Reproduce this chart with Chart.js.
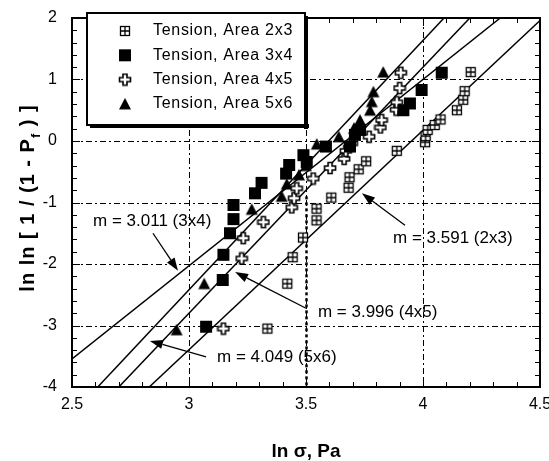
<!DOCTYPE html>
<html>
<head>
<meta charset="utf-8">
<script src="https://cdn.jsdelivr.net/npm/chart.js@4.4.1/dist/chart.umd.min.js"></script>
<style>
  html, body { margin: 0; padding: 0; background: #fff; }
  #wrap { width: 549px; height: 461px; }
</style>
</head>
<body>
<div id="wrap"><canvas id="weibull" width="549" height="461"></canvas></div>
<script>
// measured points: [ln sigma, ln ln(1/(1-Pf))]
const pts2x3 = [[3.335,-3.05],[3.42,-2.32],[3.443,-1.89],[3.487,-1.57],[3.545,-1.29],[3.545,-1.10],
  [3.608,-0.92],[3.682,-0.76],[3.686,-0.59],[3.725,-0.46],[3.757,-0.33],[3.888,-0.16],[4.009,-0.02],
  [4.011,0.08],[4.02,0.18],[4.05,0.26],[4.075,0.35],[4.145,0.50],[4.172,0.67],[4.178,0.81],[4.204,1.12]];
const pts3x4 = [[3.073,-3.02],[3.144,-2.26],[3.147,-1.85],[3.175,-1.50],[3.19,-1.27],[3.19,-1.04],
  [3.282,-0.85],[3.31,-0.68],[3.415,-0.53],[3.428,-0.39],[3.489,-0.23],[3.503,-0.34],[3.585,-0.09],
  [3.688,-0.09],[3.709,0.10],[3.731,0.18],[3.916,0.50],[3.944,0.61],[3.994,0.83],[4.08,1.11]];
const pts4x5 = [[3.147,-3.05],[3.225,-1.91],[3.232,-1.58],[3.318,-1.32],[3.439,-1.08],[3.449,-0.93],
  [3.46,-0.77],[3.531,-0.61],[3.603,-0.44],[3.663,-0.29],[3.67,-0.16],[3.695,-0.04],[3.77,0.07],
  [3.818,0.22],[3.823,0.34],[3.885,0.51],[3.888,0.63],[3.9,0.86],[3.905,1.11]];
const pts5x6 = [[2.947,-3.07],[3.065,-2.32],[3.268,-1.11],[3.396,-0.90],[3.418,-0.70],[3.47,-0.55],
  [3.5,-0.40],[3.546,-0.05],[3.64,0.07],[3.705,0.21],[3.731,0.34],[3.774,0.50],[3.781,0.64],
  [3.788,0.80],[3.83,1.12]];

// fitted Weibull lines, end points
const fit2x3 = [[2.83,-4],[4.5,1.96]];
const fit3x4 = [[2.5,-3.545],[4.33,2]];
const fit4x5 = [[2.70,-4],[4.2,2]];
const fit5x6 = [[2.61,-4],[4.09,2]];

const seriesNames = ['Tension, Area 2x3', 'Tension, Area 3x4', 'Tension, Area 4x5', 'Tension, Area 5x6'];
const slopeLabels = ['m = 3.591 (2x3)', 'm = 3.011 (3x4)', 'm = 3.996 (4x5)', 'm = 4.049 (5x6)'];
const xTicks = [2.5, 3, 3.5, 4, 4.5];
const yTicks = [2, 1, 0, -1, -2, -3, -4];

const FONT = '"Liberation Sans", Arial, sans-serif';

// marker glyphs drawn once on small canvases
function makeMarker(kind) {
    const c = document.createElement('canvas');
    c.width = 14; c.height = 14;
    const g = c.getContext('2d');
    g.strokeStyle = '#000';
    g.fillStyle = '#000';
    if (kind === 'grid') {
        g.fillStyle = '#fff';
        g.fillRect(2, 2, 10, 10);
        g.lineWidth = 1.3;
        g.strokeRect(2.5, 2.5, 9, 9);
        g.beginPath();
        g.moveTo(7, 2.5); g.lineTo(7, 11.5);
        g.moveTo(2.5, 7); g.lineTo(11.5, 7);
        g.stroke();
    } else if (kind === 'square') {
        g.fillRect(1, 1, 12, 12);
    } else if (kind === 'plus') {
        const p = [[5,1.5],[9,1.5],[9,5],[12.5,5],[12.5,9],[9,9],[9,12.5],[5,12.5],[5,9],[1.5,9],[1.5,5],[5,5]];
        g.beginPath();
        p.forEach((q, i) => i ? g.lineTo(q[0], q[1]) : g.moveTo(q[0], q[1]));
        g.closePath();
        g.fillStyle = '#fff';
        g.fill();
        g.lineWidth = 1.6;
        g.stroke();
    } else {
        g.beginPath();
        g.moveTo(7, 1); g.lineTo(13, 12.5); g.lineTo(1, 12.5);
        g.closePath();
        g.fill();
    }
    return c;
}
const markers = [makeMarker('grid'), makeMarker('square'), makeMarker('plus'), makeMarker('triangle')];

const toXY = arr => arr.map(p => ({ x: p[0], y: p[1] }));

// where the slope notes and their arrows sit (data units)
const notes = [
    { text: slopeLabels[1], at: [2.59, -1.30], from: [2.846, -1.50], to: [2.953, -2.11] },
    { text: slopeLabels[0], at: [3.872, -1.58], from: [3.923, -1.37], to: [3.739, -0.85] },
    { text: slopeLabels[2], at: [3.551, -2.78], from: [3.50, -2.72], to: [3.197, -2.13] },
    { text: slopeLabels[3], at: [3.120, -3.51], from: [3.073, -3.51], to: [2.833, -3.25] }
];

function drawArrow(ctx, x0, y0, x1, y1) {
    const ang = Math.atan2(y1 - y0, x1 - x0);
    const len = 13, half = 4.5;
    const bx = x1 - len * Math.cos(ang), by = y1 - len * Math.sin(ang);
    ctx.beginPath();
    ctx.moveTo(x0, y0); ctx.lineTo(bx, by);
    ctx.stroke();
    ctx.beginPath();
    ctx.moveTo(x1, y1);
    ctx.lineTo(bx + half * Math.sin(ang), by - half * Math.cos(ang));
    ctx.lineTo(bx - half * Math.sin(ang), by + half * Math.cos(ang));
    ctx.closePath();
    ctx.fill();
}

const refPlot = {
    id: 'refPlot',
    beforeDatasetsDraw(chart) {
        const { ctx, chartArea: a, scales: { x, y } } = chart;
        ctx.save();
        ctx.strokeStyle = '#000';
        ctx.lineWidth = 1;
        ctx.setLineDash([6, 3, 2, 3]);
        ctx.beginPath();
        xTicks.slice(1, -1).forEach(v => {
            const px = Math.round(x.getPixelForValue(v)) + 0.5;
            ctx.moveTo(px, a.top); ctx.lineTo(px, a.bottom);
        });
        yTicks.slice(1, -1).forEach(v => {
            const py = Math.round(y.getPixelForValue(v)) + 0.5;
            ctx.moveTo(a.left, py); ctx.lineTo(a.right, py);
        });
        ctx.stroke();
        // heavier dotted stretch of the 3.5 line
        ctx.lineWidth = 2.5;
        ctx.setLineDash([3, 3]);
        ctx.beginPath();
        const p35 = Math.round(x.getPixelForValue(3.5)) + 0.5;
        ctx.moveTo(p35, y.getPixelForValue(-0.9));
        ctx.lineTo(p35, a.bottom);
        ctx.stroke();
        ctx.restore();
    },
    afterDatasetsDraw(chart) {
        const { ctx, chartArea: a, scales: { x, y } } = chart;
        ctx.save();
        ctx.strokeStyle = '#000';
        ctx.fillStyle = '#000';

        // minor ticks pointing inward on all four sides
        ctx.lineWidth = 1;
        ctx.beginPath();
        for (let i = 0; i <= 20; i++) {
            const px = Math.round(x.getPixelForValue(2.5 + i * 0.1)) + 0.5;
            const len = i % 5 === 0 ? 8 : 5;
            ctx.moveTo(px, a.bottom); ctx.lineTo(px, a.bottom - len);
            ctx.moveTo(px, a.top); ctx.lineTo(px, a.top + len);
        }
        for (let i = 0; i <= 30; i++) {
            const py = Math.round(y.getPixelForValue(-4 + i * 0.2)) + 0.5;
            const len = i % 5 === 0 ? 8 : 5;
            ctx.moveTo(a.left, py); ctx.lineTo(a.left + len, py);
            ctx.moveTo(a.right, py); ctx.lineTo(a.right - len, py);
        }
        ctx.stroke();

        // frame
        ctx.lineWidth = 2;
        ctx.strokeRect(a.left, a.top, a.right - a.left, a.bottom - a.top);

        // tick labels
        ctx.font = '16px ' + FONT;
        ctx.textBaseline = 'middle';
        ctx.textAlign = 'center';
        xTicks.forEach(v => ctx.fillText(String(v), x.getPixelForValue(v), a.bottom + 18));
        ctx.textAlign = 'right';
        yTicks.forEach(v => ctx.fillText(String(v), a.left - 15, y.getPixelForValue(v)));

        // slope notes with arrows
        ctx.font = '17px ' + FONT;
        ctx.textAlign = 'left';
        ctx.lineWidth = 1.3;
        notes.forEach(n => {
            ctx.fillText(n.text, x.getPixelForValue(n.at[0]), y.getPixelForValue(n.at[1]));
            drawArrow(ctx, x.getPixelForValue(n.from[0]), y.getPixelForValue(n.from[1]),
                x.getPixelForValue(n.to[0]), y.getPixelForValue(n.to[1]));
        });

        // legend box with drop shadow
        const bx = 87, by = 13, bw = 218, bh = 112;
        ctx.fillStyle = '#fff';
        ctx.fillRect(bx, by, bw, bh);
        ctx.fillStyle = '#000';
        ctx.lineWidth = 2;
        ctx.strokeRect(bx, by, bw, bh);
        ctx.fillRect(bx + bw - 1, by + 3, 4, bh + 1);
        ctx.fillRect(bx + 3, by + bh - 1, bw + 1, 4);
        ctx.font = '16px ' + FONT;
        ctx.letterSpacing = '0.7px';
        seriesNames.forEach((name, i) => {
            const ry = 31 + i * 24.3;
            ctx.drawImage(markers[i], 125 - 7, ry - 7);
            ctx.fillText(name, 153, ry);
        });
        ctx.letterSpacing = '0px';

        // axis titles
        ctx.font = 'bold 19px ' + FONT;
        ctx.textAlign = 'center';
        ctx.textBaseline = 'alphabetic';
        ctx.fillText('ln \u03c3, Pa', 306, 457);

        ctx.translate(34, 198);
        ctx.rotate(-Math.PI / 2);
        ctx.letterSpacing = '1px';
        const partA = 'ln ln [ 1 / (1 - P', partB = ' ) ]';
        ctx.font = 'bold 20px ' + FONT;
        const wA = ctx.measureText(partA).width, wB = ctx.measureText(partB).width;
        ctx.font = 'bold 13px ' + FONT;
        const wS = ctx.measureText('f').width;
        let cx = -(wA + wS + wB) / 2;
        ctx.textAlign = 'left';
        ctx.font = 'bold 20px ' + FONT;
        ctx.fillText(partA, cx, 0);
        cx += wA;
        ctx.font = 'bold 13px ' + FONT;
        ctx.fillText('f', cx, 6);
        cx += wS;
        ctx.font = 'bold 20px ' + FONT;
        ctx.fillText(partB, cx, 0);
        ctx.restore();
    }
};

const pointSet = (i, pts) => ({
    label: seriesNames[i],
    data: toXY(pts),
    pointStyle: markers[i],
    pointRadius: 7,
    showLine: false,
    order: 0
});
const fitSet = pts => ({
    data: toXY(pts),
    showLine: true,
    pointRadius: 0,
    borderColor: '#000',
    borderWidth: 1.5,
    fill: false,
    order: 1
});

new Chart(document.getElementById('weibull'), {
    type: 'scatter',
    data: {
        datasets: [
            pointSet(0, pts2x3), pointSet(1, pts3x4), pointSet(2, pts4x5), pointSet(3, pts5x6),
            fitSet(fit2x3), fitSet(fit3x4), fitSet(fit4x5), fitSet(fit5x6)
        ]
    },
    options: {
        responsive: false,
        animation: false,
        layout: { padding: { top: 18, right: 9, left: 0, bottom: 0 } },
        plugins: { legend: { display: false }, tooltip: { enabled: false } },
        scales: {
            x: {
                type: 'linear', min: 2.5, max: 4.5,
                grid: { display: false }, border: { display: false },
                ticks: { display: false },
                afterFit: s => { s.height = 74; }
            },
            y: {
                type: 'linear', min: -4, max: 2,
                grid: { display: false }, border: { display: false },
                ticks: { display: false },
                afterFit: s => { s.width = 72; }
            }
        }
    },
    plugins: [refPlot]
});
</script>
</body>
</html>
